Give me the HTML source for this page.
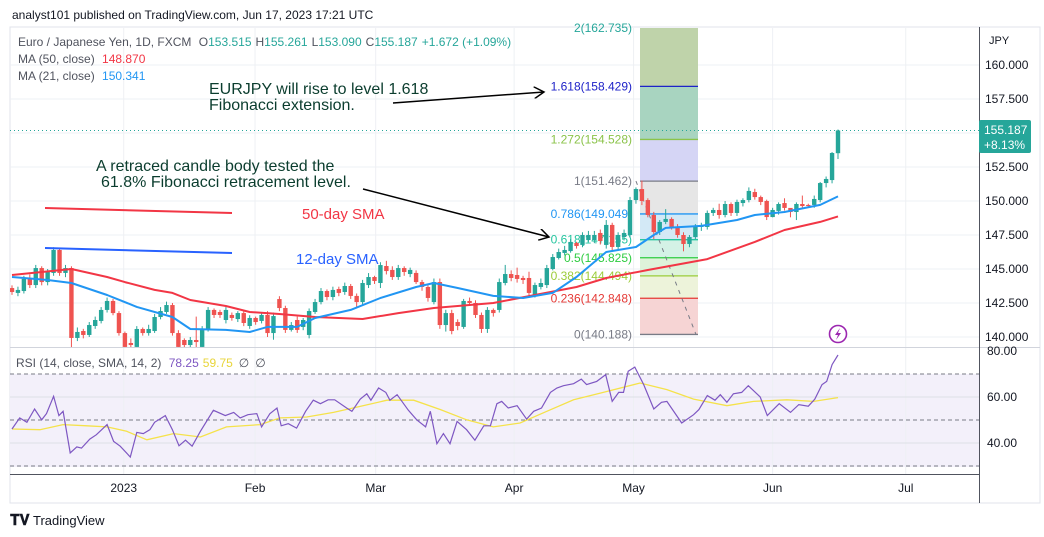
<!DOCTYPE html>
<html><head><meta charset="utf-8">
<style>
html,body{margin:0;padding:0;background:#fff;}
body{width:1044px;height:537px;overflow:hidden;font-family:"Liberation Sans",sans-serif;}
svg{position:absolute;left:0;top:0;}
</style></head>
<body>
<svg id="chart" width="1044" height="537" viewBox="0 0 1044 537" xmlns="http://www.w3.org/2000/svg" font-family="Liberation Sans, sans-serif">
  <text x="12" y="19" font-size="12" fill="#131722">analyst101 published on TradingView.com, Jun 17, 2023 17:21 UTC</text>
  <rect x="10" y="27" width="1030" height="476" fill="#fff" stroke="#e0e3eb" stroke-width="1"/>
  <rect x="10" y="374" width="969" height="93" fill="#f3f0fa"/>
  <g id="grid"></g>
  <g id="fib"></g>
  <g id="main" clip-path="url(#mainclip)"></g>
  <g id="rsi" clip-path="url(#rsiclip)"></g>
  <defs>
    <clipPath id="mainclip"><rect x="10" y="28" width="969" height="319"/></clipPath>
    <clipPath id="rsiclip"><rect x="10" y="348" width="969" height="126"/></clipPath>
    <marker id="arr" markerWidth="12" markerHeight="12" refX="10" refY="6" orient="auto" markerUnits="userSpaceOnUse"><path d="M0,0 L10,6 L0,12" fill="none" stroke="#000" stroke-width="1.5"/></marker>
  </defs>
  <line x1="10" y1="347.5" x2="1040" y2="347.5" stroke="#d1d4dc"/>
  <line x1="10" y1="474.5" x2="979" y2="474.5" stroke="#50535e"/>
  <line x1="979.5" y1="27" x2="979.5" y2="503" stroke="#50535e"/>
  <g id="axes" font-size="12" fill="#131722"></g>

  <text x="18" y="46" font-size="12" fill="#50535e">Euro / Japanese Yen, 1D, FXCM <tspan dx="4">O</tspan><tspan fill="#26a69a">153.515</tspan><tspan dx="4">H</tspan><tspan fill="#26a69a">155.261</tspan><tspan dx="4">L</tspan><tspan fill="#26a69a">153.090</tspan><tspan dx="4">C</tspan><tspan fill="#26a69a">155.187</tspan><tspan dx="4" fill="#26a69a">+1.672 (+1.09%)</tspan></text>
  <text x="18" y="63" font-size="12" fill="#50535e">MA (50, close) <tspan dx="4" fill="#f23645">148.870</tspan></text>
  <text x="18" y="80" font-size="12" fill="#50535e">MA (21, close) <tspan dx="4" fill="#2196f3">150.341</tspan></text>
  <text x="16" y="367" font-size="12" fill="#50535e">RSI (14, close, SMA, 14, 2) <tspan dx="4" fill="#7e57c2">78.25</tspan><tspan dx="4" fill="#e8d53a">59.75</tspan><tspan dx="6">∅</tspan><tspan dx="6">∅</tspan></text>

  <g font-size="16" fill="#0b3d2e">
    <text x="209" y="94">EURJPY will rise to level 1.618</text>
    <text x="209" y="110">Fibonacci extension.</text>
    <line x1="393" y1="103" x2="544" y2="92" stroke="#000" stroke-width="1.5" marker-end="url(#arr)"/>
    <text x="96" y="171">A retraced candle body tested the</text>
    <text x="101" y="187">61.8% Fibonacci retracement level.</text>
    <line x1="363" y1="189" x2="549" y2="237" stroke="#000" stroke-width="1.5" marker-end="url(#arr)"/>
    <text x="302" y="219" font-size="15" fill="#f23645">50-day SMA</text>
    <text x="296" y="264" font-size="15" fill="#2962ff">12-day SMA</text>
    <line x1="45" y1="208" x2="232" y2="213" stroke="#f23645" stroke-width="2"/>
    <line x1="45" y1="248" x2="232" y2="253" stroke="#2962ff" stroke-width="2"/>
  </g>

  <rect x="979" y="120" width="52" height="33" rx="2" fill="#26a69a"/>
  <text x="984" y="134" font-size="12" fill="#fff">155.187</text>
  <text x="984" y="149" font-size="12" fill="#fff">+8.13%</text>

  <g>
    <circle cx="838" cy="334" r="8.5" fill="#fff" stroke="#9c27b0" stroke-width="1.6"/>
    <path d="M840,328 L835,335 L838,335 L836,340 L841,333 L838,333 Z" fill="#9c27b0"/>
  </g>

  <g>
    <text x="10" y="525" font-size="15" font-weight="bold" fill="#131722">𝐓𝐕</text>
    <text x="33" y="525" font-size="13" fill="#131722">TradingView</text>
  </g>
</svg>
<script>
const opens=[143.60,143.24,143.38,144.27,143.82,145.07,144.04,144.71,146.40,144.71,145.07,139.93,140.44,140.15,140.81,141.18,141.99,142.65,141.76,140.29,139.56,139.27,140.59,140.29,140.44,141.47,141.84,142.35,140.29,139.78,139.41,139.78,139.27,140.59,141.99,141.84,141.25,141.62,141.32,141.76,140.81,141.40,141.18,141.62,140.29,142.79,142.13,140.52,141.25,140.74,140.15,141.84,142.57,143.38,142.94,143.53,143.31,143.75,143.02,142.57,143.82,144.41,143.97,145.22,144.93,144.41,145.07,144.63,144.71,144.04,143.68,142.57,144.04,140.88,141.76,141.10,140.74,142.65,142.50,141.62,140.59,141.99,141.99,143.97,144.63,144.56,144.34,144.34,143.09,143.68,143.82,145.00,145.81,146.18,146.32,146.91,146.77,147.13,147.13,147.65,146.77,148.24,146.62,147.35,147.50,150.07,150.88,150.07,148.97,147.72,148.46,148.68,148.09,147.50,146.84,147.35,148.09,148.09,149.12,149.34,148.97,149.78,149.12,149.85,150.07,150.66,150.29,150.00,148.82,149.27,149.85,149.49,149.19,149.78,149.71,149.71,150.07,151.32,151.54,153.515];
const closes=[143.31,143.46,144.27,143.82,145.07,144.04,144.78,146.40,144.71,145.07,139.93,140.37,140.15,140.88,141.25,141.99,142.65,141.76,140.29,139.27,139.41,140.59,140.29,140.59,141.47,141.91,142.35,140.29,139.27,139.41,139.78,139.63,140.59,141.99,141.62,141.62,141.99,141.40,141.76,141.03,141.40,141.10,141.62,140.29,141.54,142.13,140.52,140.88,140.52,141.25,141.91,142.57,143.38,142.94,143.46,143.24,143.75,143.02,142.57,143.97,144.41,144.12,145.29,144.85,144.41,145.07,144.78,144.93,144.04,143.68,142.87,144.04,140.88,141.76,140.44,140.81,142.65,142.50,141.62,140.59,141.99,141.76,144.04,144.63,144.34,144.27,144.19,143.24,143.82,143.97,145.07,145.88,146.25,146.40,146.99,146.69,147.50,147.50,147.50,147.06,148.24,146.62,147.50,147.65,150.07,150.88,150.00,148.97,147.72,148.46,148.68,148.09,147.50,146.84,147.35,148.09,148.24,149.12,149.34,148.97,149.78,149.12,149.93,150.07,150.74,150.29,149.93,148.82,149.34,149.78,149.49,149.19,149.78,149.63,149.63,150.15,151.32,151.62,153.53,155.187];
const highs=[143.8,143.7,144.5,144.6,145.3,145.2,145.0,146.6,146.5,145.3,145.2,140.7,140.6,141.1,141.5,142.2,142.9,142.8,141.9,140.4,139.9,140.8,140.7,140.9,141.7,142.2,142.6,142.5,140.5,139.9,140.0,141.5,140.8,142.2,142.1,142.0,142.2,141.8,141.9,141.9,141.6,141.5,141.8,141.9,141.8,143.0,142.3,141.1,141.5,141.4,142.1,142.8,143.6,143.5,143.7,143.7,144.0,143.9,143.2,144.2,144.7,144.5,145.5,145.6,145.2,145.3,145.2,145.1,144.9,144.2,143.8,144.3,144.3,142.0,142.0,141.3,142.8,142.9,142.7,141.8,142.2,142.1,144.3,145.3,144.9,145.1,144.5,144.8,144.0,144.3,145.3,146.1,146.5,146.7,147.2,147.0,147.7,147.8,147.8,147.9,148.6,148.4,147.7,147.9,150.3,151.0,151.5,150.2,149.2,148.6,149.4,148.8,148.3,147.7,147.5,148.3,148.4,149.3,149.5,149.8,150.0,149.9,150.1,150.2,151.0,150.9,150.4,150.1,149.5,149.9,150.2,149.3,149.9,150.4,149.8,150.4,151.4,151.8,153.6,155.261];
const lows=[143.1,143.0,143.2,143.6,143.6,143.8,143.8,144.5,144.5,144.4,139.2,139.7,139.9,140.0,140.6,141.0,141.8,141.6,140.1,139.1,139.1,139.1,140.1,140.1,140.3,141.3,141.7,140.1,139.1,139.2,139.2,139.1,139.1,140.4,141.4,141.4,141.0,141.2,141.1,140.8,140.6,140.9,141.0,140.0,139.8,141.9,140.3,140.4,140.3,140.5,139.9,141.7,142.4,142.7,142.7,143.0,143.1,142.8,142.2,142.3,143.6,143.9,143.6,144.6,144.2,144.2,144.5,144.4,143.9,143.4,142.6,142.4,140.6,140.4,140.2,140.5,140.6,142.3,141.4,140.3,140.3,141.5,141.8,143.8,144.1,144.0,143.9,142.9,142.9,143.5,143.6,144.9,145.7,146.0,146.2,146.5,146.6,147.0,146.9,146.8,146.5,146.3,146.4,147.1,147.3,149.8,149.7,148.8,147.2,147.5,148.3,147.9,147.3,146.3,146.6,147.2,147.8,147.9,148.9,148.7,148.8,148.9,148.9,149.6,149.9,150.1,149.7,148.6,148.8,149.0,149.3,148.8,148.6,149.5,149.5,149.5,149.9,151.0,151.3,153.09];
const ma21Idx=[0,6,10,16,21,27,30,36,40,43,48,51,57,62,68,71,75,81,86,91,95,100,105,108,110,116,122,125,130,136,139];
const ma21Val=[144.41,144.19,143.97,143.09,142.21,141.47,140.59,140.52,140.37,140.74,140.74,141.40,141.99,142.87,143.68,143.97,143.60,143.02,142.87,143.24,144.41,146.25,146.62,147.50,148.02,148.17,148.60,148.97,149.19,149.71,150.34];
const ma50Idx=[0,10,16,19,24,27,30,36,40,45,51,59,65,71,81,88,95,100,107,117,125,130,136,139];
const ma50Val=[144.56,145.00,144.41,144.04,143.46,143.24,142.72,142.28,141.84,141.69,141.47,141.32,141.76,142.13,142.50,143.09,143.68,144.34,144.93,145.73,146.99,147.87,148.46,148.87];
const rsiIdx=[0,1.3,2.5,3.8,5,5.8,7,7.9,8.6,9.8,10.9,11.7,13.1,14.2,16,17.1,18.2,19.9,21,22.1,23.2,24,25.8,27,28.1,29.2,30.3,31.7,33.9,35.9,37.3,38.4,39.7,41.2,42,43.4,44.6,45.3,46.5,47.9,49.4,50.7,51.9,53.2,54.3,56.3,57.2,58.6,59.7,60.4,61.7,62.9,63.6,64.8,66.7,68.1,69.6,70.4,71.5,72.6,73.7,74.9,76.5,77.9,79.4,80.5,81.6,82.4,83.5,85,86.6,87.8,89.1,90.6,91.7,92.8,94.5,95.8,96.7,98.4,99.9,101,102.1,102.9,103.7,104.8,106.3,108,109.3,110.2,112.7,114.7,115.6,117,118.3,119.2,120.3,121.4,122.8,123.9,125.9,127.1,129.1,131,132.4,134,135.1,136.3,137.1,138,139];
const rsiVal=[46.1,50.9,49,54.8,50.1,52.8,60.3,51.9,53.8,35.7,38.3,37.8,41.7,43.6,48,40.7,38.6,33.9,44.6,44.1,45.8,49,51.9,45.8,38.8,41.2,38.6,45.1,54.2,51.9,53.3,50.9,52.3,52.8,47,52.8,55.2,47.5,48.4,46.5,53.8,58.6,57.1,58.8,58.8,55.2,53.8,59.1,61.4,58.6,63.9,62,58.6,61,54.2,50.1,47,53.8,39.7,44.1,39.7,49.4,45.8,41.2,47.5,47.5,57.1,58.1,55.2,56.2,50.4,53.8,55.2,62,63.9,64.9,65.8,67.8,65.4,66.8,69.7,58.1,62,62,71.2,73,65.4,54.8,57.7,58.1,48.7,52.3,54.5,60.6,58.6,61,57.7,61.4,62,64.9,60,51.9,57.1,53.3,56.7,56,59.1,65.4,66.8,74.1,78.25];
const rsiSmaIdx=[0,4.7,8.6,12.6,16,19.3,22.7,27.2,31.7,36.1,41.8,45.1,49.6,54.1,58.6,63.1,67.6,72.1,76.5,81,85.5,90,94.5,99,105.7,110.2,114.7,120.3,124.8,130.4,134.9,139];
const rsiSmaVal=[46.1,45.8,48,47.5,47,45.1,41.4,44.1,42.6,47,48,50.9,51.3,53.3,55.9,58.6,58.6,54.5,50.1,47,48.7,53.8,58.8,61.7,66.1,63.2,59.1,56.2,58.1,58.8,58.1,59.75];
const priceTicks=[160,157.5,152.5,150,147.5,145,142.5,140];
const priceTickLabels=["160.000","157.500","152.500","150.000","147.500","145.000","142.500","140.000"];
const rsiTicks=[80,60,40];
const rsiTickLabels=["80.00","60.00","40.00"];
const monthIdx=[18.8,40.9,61.2,84.5,104.6,128,150.4];
const monthLabels=["2023","Feb","Mar","Apr","May","Jun","Jul"];
const fibRatios=[2,1.618,1.272,1,0.786,0.618,0.5,0.382,0.236,0];
const fibPrices=[162.735,158.429,154.528,151.462,149.049,147.155,145.825,144.494,142.848,140.188];
const fibLineColors=["#26a69a","#1e22c8","#8bc34a","#787b86","#2196f3","#26c6a0","#2ecc40","#9ccc3a","#e53935","#787b86"];
const fibFills=["#bfd3aa","#a8d4c0","#d5d5f5","#e6e6e6","#d3e9f6","#d4f2e6","#def3da","#edf3da","#f6d4d4"];

const NS="http://www.w3.org/2000/svg";
const N=closes.length;
const X0=12,X1=838;
function xB(i){return X0+i*(X1-X0)/(N-1);}
function yP(p){return 65+(160-p)*13.6;}
function yR(r){return 397+(60-r)*2.3;}
function mk(tag,attrs,parent){const e=document.createElementNS(NS,tag);for(const k in attrs)e.setAttribute(k,attrs[k]);parent.appendChild(e);return e;}

const grid=document.getElementById('grid');
priceTicks.forEach(function(p){const l=mk('line',{x1:10,x2:979,y1:yP(p),y2:yP(p),stroke:'#eef0f4'},grid);

});
l0=mk('line',{x1:10,x2:979,y1:yP(155),y2:yP(155),stroke:'#eef0f4'},grid);


monthIdx.forEach(function(m){const l=mk('line',{x1:xB(m),x2:xB(m),y1:28,y2:474,stroke:'#eef0f4'},grid);

});
[60,40].forEach(function(r){const l=mk('line',{x1:10,x2:979,y1:yR(r),y2:yR(r),stroke:'#dcdfe6'},grid);

});
[70,50,30].forEach(function(r){const l=mk('line',{x1:10,x2:979,y1:yR(r),y2:yR(r),stroke:'#787b86','stroke-dasharray':'4,3'},grid);

});

// Fibonacci tool
const fib=document.getElementById('fib');
const FX0=640,FX1=698;
for(let k=0;k<fibFills.length;k++){
  const ya=Math.max(28,yP(fibPrices[k])),yb=yP(fibPrices[k+1]);
  const r=mk('rect',{x:FX0,y:ya,width:FX1-FX0,height:yb-ya,fill:fibFills[k]},fib);
  
  
}
fibPrices.forEach(function(p,k){
  const y=yP(p);
  if(y<28) {
    const t0=mk('text',{x:632,y:32,'font-size':12,fill:fibLineColors[k],'text-anchor':'end'},fib);t0.textContent=fibRatios[k]+'('+p.toFixed(3)+')';
    
    
    return;}
  const l=mk('line',{x1:FX0,x2:FX1,y1:y,y2:y,stroke:fibLineColors[k],'stroke-width':1.3},fib);
  
  
  const t=mk('text',{x:632,y:y+4,'font-size':12,fill:fibLineColors[k],'text-anchor':'end'},fib);
  t.textContent=fibRatios[k]+'('+p.toFixed(3)+')';
  
  
});
const tl=mk('line',{x1:xB(105),y1:yP(fibPrices[3]),x2:696,y2:yP(fibPrices[9]),stroke:'#787b86','stroke-dasharray':'4,5'},fib);



// price pane
const main=document.getElementById('main');
const cur=mk('line',{x1:10,x2:979,y1:yP(closes[N-1]),y2:yP(closes[N-1]),stroke:'#26a69a','stroke-dasharray':'1,3'},main);


for(let i=0;i<N;i++){
  const up=closes[i]>=opens[i];const col=up?'#26a69a':'#ef5350';
  const x=xB(i);
  const g=mk('g',{},main);
  
  
  mk('line',{x1:x,x2:x,y1:yP(highs[i]),y2:yP(lows[i]),stroke:col,'stroke-width':1},g);
  const yt=yP(Math.max(opens[i],closes[i])),yb=yP(Math.min(opens[i],closes[i]));
  mk('rect',{x:x-2.2,y:yt,width:4.4,height:Math.max(1,yb-yt),fill:col},g);
}
function pathFrom(idx,val,yf){return idx.map(function(k,j){return (j?'L':'M')+xB(k).toFixed(1)+','+yf(val[j]).toFixed(1);}).join(' ');}
const p50=mk('path',{d:pathFrom(ma50Idx,ma50Val,yP),fill:'none',stroke:'#f23645','stroke-width':2,'stroke-linejoin':'round'},main);


const p21=mk('path',{d:pathFrom(ma21Idx,ma21Val,yP),fill:'none',stroke:'#2196f3','stroke-width':2,'stroke-linejoin':'round'},main);



// RSI pane
const rsi=document.getElementById('rsi');
const ps=mk('path',{d:pathFrom(rsiSmaIdx,rsiSmaVal,yR),fill:'none',stroke:'#f5e24a','stroke-width':1.3},rsi);


const pr=mk('path',{d:pathFrom(rsiIdx,rsiVal,yR),fill:'none',stroke:'#7e57c2','stroke-width':1.2},rsi);



// axes
const axes=document.getElementById('axes');
const jpy=mk('text',{x:989,y:44,'font-size':11},axes);jpy.textContent='JPY';


priceTicks.forEach(function(p,k){const t=mk('text',{x:985,y:yP(p)+4},axes);t.textContent=priceTickLabels[k];

});
rsiTicks.forEach(function(r,k){const t=mk('text',{x:987,y:yR(r)+4},axes);t.textContent=rsiTickLabels[k];

});
monthIdx.forEach(function(m,k){const t=mk('text',{x:xB(m),y:492,'text-anchor':'middle'},axes);t.textContent=monthLabels[k];

});
</script>
</body></html>
